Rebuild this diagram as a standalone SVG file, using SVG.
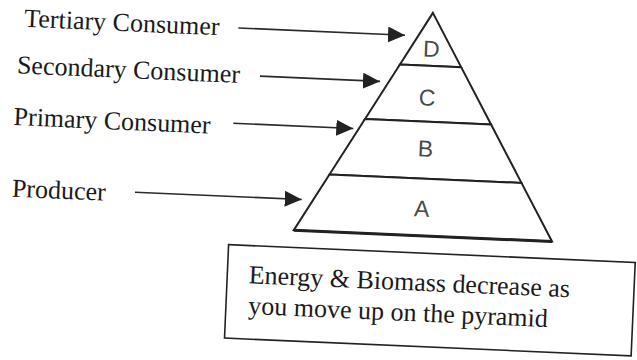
<svg xmlns="http://www.w3.org/2000/svg" width="637" height="360" viewBox="0 0 637 360">
<style>
.lbl{font-family:"Liberation Serif","Times New Roman",serif;font-size:26px;fill:#1a1a1a}
.lvl{fill:#fff;stroke:#222;stroke-width:2;stroke-linejoin:miter}
.let{font-family:"Liberation Sans",Arial,sans-serif;font-size:23px;fill:#4a4a4a;text-anchor:middle}
.arr{stroke:#2a2a2a;stroke-width:1.6;fill:none}
.box{fill:#fff;stroke:#222;stroke-width:1.6}
</style>
<defs>
<marker id="ah" markerUnits="userSpaceOnUse" markerWidth="18" markerHeight="16" refX="17" refY="8" orient="auto">
<path d="M0,0 L17,8 L0,16 Z" fill="#222"/>
</marker>
</defs>
<rect width="637" height="360" fill="#fff"/>
<g transform="rotate(2.5 318 180)">
<g id="labels">
<g id="label-tertiary"><text class="lbl" x="17.6" y="39.7">Tertiary Consumer</text></g>
<g id="label-secondary"><text class="lbl" x="12.3" y="86.5">Secondary Consumer</text></g>
<g id="label-primary"><text class="lbl" x="11.2" y="138.3">Primary Consumer</text></g>
<g id="label-producer"><text class="lbl" x="12.7" y="210">Producer</text></g>
</g>
<g id="pyramid">
<g id="level-D"><polygon class="lvl" points="425.5,8 456.1,61 394.8,61"/><text class="let" x="425.5" y="52">D</text></g>
<g id="level-C"><polygon class="lvl" points="394.8,61 456.1,61 488.5,117 362.3,117"/><text class="let" x="423.5" y="101">C</text></g>
<g id="level-B"><polygon class="lvl" points="362.3,117 488.5,117 521.4,174 329.2,174"/><text class="let" x="424" y="152">B</text></g>
<g id="level-A"><polygon class="lvl" points="329.2,174 521.4,174 554.5,231.2 296,231.2"/><text class="let" x="423" y="212">A</text></g>
<line x1="296" y1="231.2" x2="554.5" y2="231.2" stroke="#222" stroke-width="3"/>
</g>
<g id="connectors">
<line class="arr" x1="231.8" y1="31.6" x2="398.6" y2="31.6" marker-end="url(#ah)"/>
<line class="arr" x1="255.5" y1="78.8" x2="375.6" y2="78.8" marker-end="url(#ah)"/>
<line class="arr" x1="230.9" y1="127" x2="351" y2="127" marker-end="url(#ah)"/>
<line class="arr" x1="135.7" y1="200.2" x2="302.6" y2="200.2" marker-end="url(#ah)"/>
</g>
<g id="note">
<rect class="box" x="231.5" y="248.5" width="407" height="93.5"/>
<text class="lbl" x="253" y="286.2">Energy &amp; Biomass decrease as</text>
<text class="lbl" x="254" y="316.9">you move up on the pyramid</text>
</g>
</g>
</svg>
